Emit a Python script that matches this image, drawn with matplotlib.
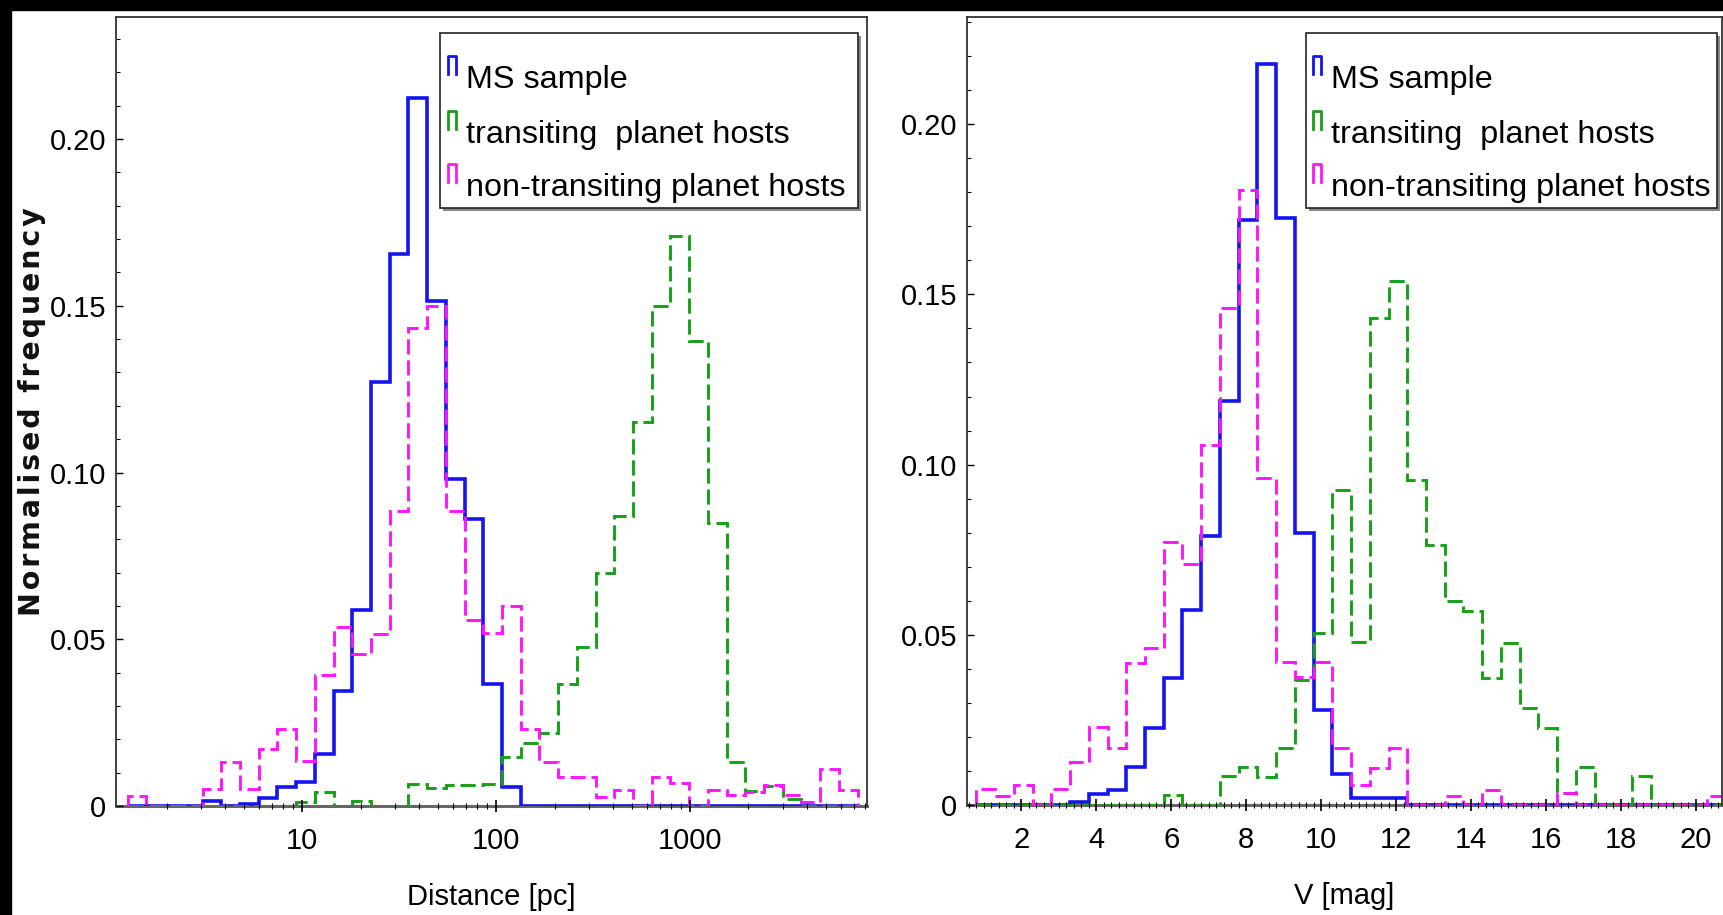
import numpy as np
import matplotlib
matplotlib.use("Agg")
import matplotlib.pyplot as plt
from matplotlib.patches import Rectangle
from matplotlib.lines import Line2D
from matplotlib.ticker import FixedLocator, MultipleLocator, LogLocator, NullFormatter, FuncFormatter

# --- data (normalised frequency per bin) ---
# distance panel: bins equally spaced in log10(d)
dist_log_start = 0.1
dist_log_width = 0.0965
ms_dist = [0, 0, 0, 0, 0.0016, 0, 0.0006, 0.0023, 0.0056, 0.0073,
           0.0156, 0.0346, 0.0589, 0.127, 0.1655, 0.2122, 0.1514, 0.098, 0.086, 0.0366,
           0.0056, 0, 0, 0, 0, 0, 0, 0, 0, 0,
           0, 0, 0, 0, 0, 0, 0, 0, 0]
trans_dist = [0, 0, 0, 0, 0, 0, 0, 0, 0, 0.0013,
              0.0041, 0, 0.0016, 0, 0, 0.0065, 0.0053, 0.0063, 0.0063, 0.0065,
              0.0148, 0.0188, 0.0218, 0.0366, 0.0478, 0.0699, 0.0869, 0.1151, 0.1499, 0.171,
              0.1394, 0.0849, 0.0133, 0.0045, 0.006, 0.002, 0, 0, 0]
nontrans_dist = [0.003, 0, 0, 0, 0.005, 0.0131, 0.005, 0.0171, 0.0231, 0.0134,
                 0.0392, 0.0537, 0.0456, 0.0517, 0.0886, 0.1434, 0.150, 0.0886, 0.0557, 0.0519,
                 0.0599, 0.0231, 0.0133, 0.0088, 0.0088, 0.0028, 0.0048, 0, 0.0088, 0.0068,
                 0, 0.0048, 0.0033, 0.0043, 0.0063, 0.0033, 0.0013, 0.011, 0.0048]

# V magnitude panel: 0.5 mag bins
vmag_start = 0.8
vmag_width = 0.5
ms_v = [0, 0, 0, 0, 0, 0.001, 0.0031, 0.0044, 0.0111, 0.0225,
        0.0373, 0.0574, 0.0789, 0.1186, 0.1719, 0.2176, 0.1725, 0.0799, 0.0279, 0.009,
        0.002, 0.002, 0.002, 0, 0, 0, 0, 0, 0, 0,
        0, 0, 0, 0, 0, 0, 0, 0, 0, 0]
trans_v = [0, 0, 0, 0, 0, 0, 0, 0, 0, 0,
           0.0029, 0, 0, 0.0085, 0.0113, 0.0083, 0.0167, 0.0368, 0.0505, 0.0926,
           0.048, 0.1431, 0.1539, 0.0956, 0.0765, 0.0598, 0.0569, 0.0373, 0.0477, 0.0284,
           0.0225, 0.0034, 0.0113, 0, 0, 0.0085, 0, 0, 0, 0]
nontrans_v = [0.0046, 0.0025, 0.0059, 0, 0.0046, 0.0125, 0.023, 0.0167, 0.0417, 0.0461,
              0.0772, 0.0709, 0.1059, 0.1461, 0.1806, 0.0961, 0.0419, 0.0377, 0.0419, 0.0167,
              0.0059, 0.0108, 0.0167, 0, 0, 0.0025, 0, 0.0044, 0, 0,
              0, 0.0036, 0, 0, 0, 0, 0, 0, 0, 0.0025]

labels = ["MS sample", "transiting  planet hosts", "non-transiting planet hosts"]
colors = ["#1414f0", "#16a016", "#ff14ff"]
y_ticks = [0, 0.05, 0.10, 0.15, 0.20]

W, H = 1724, 915
plt.rcParams["font.family"] = ["Liberation Sans", "DejaVu Sans"]

fig = plt.figure(figsize=(W / 100, H / 100), dpi=100)
fig.patch.set_facecolor("white")

# black slide border (top and left)
fig.add_artist(Rectangle((0, 1 - 10 / H), 1, 10 / H, transform=fig.transFigure,
                         color="black", zorder=5))
fig.add_artist(Rectangle((0, 0), 11 / W, 1, transform=fig.transFigure,
                         color="black", zorder=5))

ax1 = fig.add_axes([116 / W, 1 - 806 / H, 751 / W, 789 / H])
ax2 = fig.add_axes([967 / W, 1 - 805 / H, 755 / W, 788 / H])

dist_edges = 10 ** (dist_log_start + dist_log_width * np.arange(len(ms_dist) + 1))
v_edges = vmag_start + vmag_width * np.arange(len(ms_v) + 1)

dash = (0, (5.2, 2.0))
for ax, edges, series in [(ax1, dist_edges, [ms_dist, trans_dist, nontrans_dist]),
                          (ax2, v_edges, [ms_v, trans_v, nontrans_v])]:
    ax.stairs(series[0], edges, color=colors[0], lw=2.6, baseline=0)
    ax.stairs(series[1], edges, color=colors[1], lw=2.1, ls=dash, baseline=0)
    ax.stairs(series[2], edges, color=colors[2], lw=2.1, ls=dash, baseline=0)

ax1.set_xscale("log")
ax1.set_xlim(10 ** 0.04, 10 ** 3.912)
ax1.set_ylim(0, 0.2366)
ax1.xaxis.set_major_locator(FixedLocator([10, 100, 1000]))
ax1.xaxis.set_minor_locator(LogLocator(base=10, subs=np.arange(2, 10)))
ax1.xaxis.set_minor_formatter(NullFormatter())
ax1.xaxis.set_major_formatter(FuncFormatter(lambda v, p: f"{int(round(v))}"))

ax2.set_xlim(0.549, 20.7)
ax2.set_ylim(0, 0.2315)
ax2.xaxis.set_major_locator(MultipleLocator(2))
ax2.xaxis.set_minor_locator(MultipleLocator(0.2))

yfmt = FuncFormatter(lambda v, p: "0" if abs(v) < 1e-9 else f"{v:.2f}")
for ax in (ax1, ax2):
    ax.yaxis.set_major_locator(FixedLocator(y_ticks))
    ax.yaxis.set_minor_locator(MultipleLocator(0.01))
    ax.yaxis.set_major_formatter(yfmt)
    ax.tick_params(axis="y", which="major", direction="in", length=5, width=1,
                   labelsize=21, pad=7)
    ax.tick_params(axis="y", which="minor", direction="in", length=3, width=0.8)
    ax.tick_params(axis="x", which="major", direction="inout", length=8, width=1.2,
                   labelsize=21, pad=11)
    ax.tick_params(axis="x", which="minor", direction="inout", length=4, width=0.8)
    for s in ("left", "top", "right"):
        ax.spines[s].set_color("#333333")
        ax.spines[s].set_linewidth(1.3)
    ax.spines["bottom"].set_color("#666666")
    ax.spines["bottom"].set_linewidth(2.2)
    ax.spines["bottom"].set_zorder(0.5)

ax1.set_xlabel("Distance [pc]", fontsize=21, labelpad=20)
ax2.set_xlabel("V [mag]", fontsize=21, labelpad=20)

# y label: bold, letter-spaced
ylab = "\u200a".join("Normalised frequency")
fig.text(32 / W, 1 - 412 / H, ylab, rotation=90, ha="center", va="center",
         fontsize=20.5, fontweight="bold", family="DejaVu Sans", color="#111111")


def draw_legend(box, icon_x, text_x, baselines):
    x0, y0, x1, y1 = box
    fig.add_artist(Rectangle(((x0 + 3) / W, 1 - (y1 + 3) / H), (x1 - x0) / W, (y1 - y0) / H,
                             transform=fig.transFigure, facecolor="#888888",
                             edgecolor="none", zorder=6))
    fig.add_artist(Rectangle((x0 / W, 1 - y1 / H), (x1 - x0) / W, (y1 - y0) / H,
                             transform=fig.transFigure, facecolor="white",
                             edgecolor="#222222", lw=1.2, zorder=6))
    for lab, col, b in zip(labels, colors, baselines):
        top, bot = b - 32, b - 14
        fig.add_artist(Line2D([icon_x / W, icon_x / W, (icon_x + 8) / W, (icon_x + 8) / W],
                              [1 - bot / H, 1 - top / H, 1 - top / H, 1 - bot / H],
                              transform=fig.transFigure, color=col, lw=2, zorder=7))
        fig.text(text_x / W, 1 - b / H, lab, ha="left", va="baseline",
                 fontsize=23.3, color="black", zorder=7)


draw_legend((440, 33, 858, 208), 448, 466, [88, 143, 196])
draw_legend((1306, 33, 1717, 208), 1313, 1331, [88, 143, 196])

fig.savefig("out.png", dpi=100, facecolor=fig.get_facecolor())
